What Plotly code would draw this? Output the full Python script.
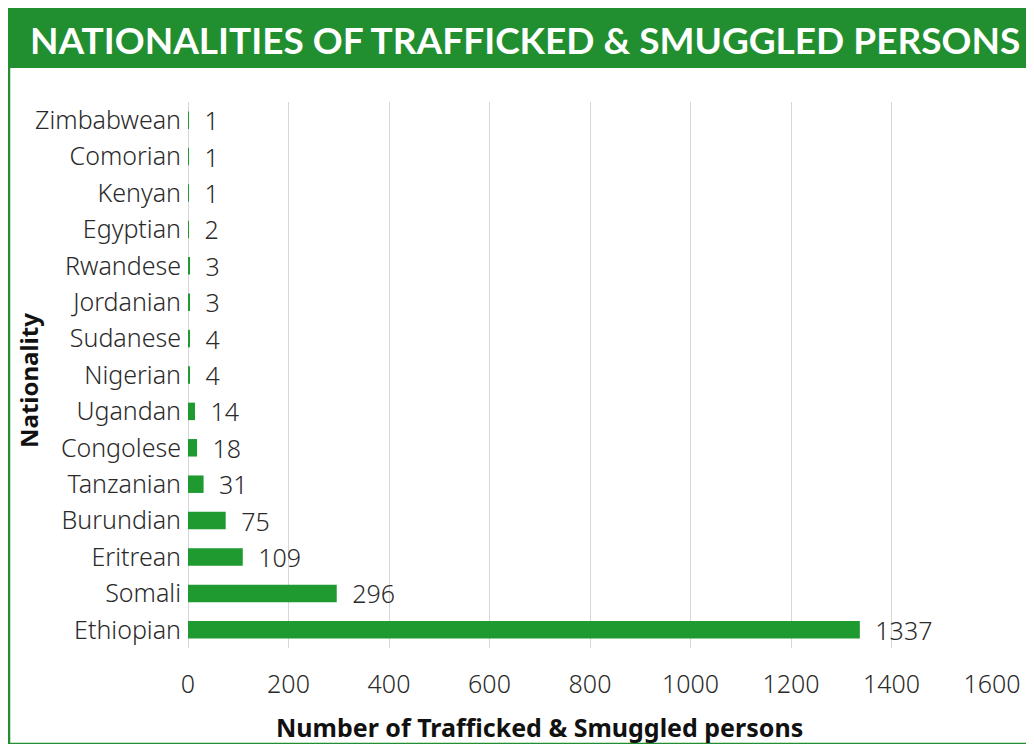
import plotly.graph_objects as go

nationalities = ["Zimbabwean", "Comorian", "Kenyan", "Egyptian", "Rwandese", "Jordanian",
                 "Sudanese", "Nigerian", "Ugandan", "Congolese", "Tanzanian", "Burundian",
                 "Eritrean", "Somali", "Ethiopian"]
counts = [1, 1, 1, 2, 3, 3, 4, 4, 14, 18, 31, 75, 109, 296, 1337]
x_ticks = [0, 200, 400, 600, 800, 1000, 1200, 1400, 1600]

# page body has an 8px margin: figure pixel = reference pixel - 8
OFF = 8
W, H = 1034 - OFF, 752 - 2 * OFF
L, R, T, B = 188 - OFF, 42, 102 - OFF, 104 - OFF
pw, ph = W - L - R, H - T - B

def px_x(p):
    return (p - OFF - L) / pw

def px_y(p):
    return (H - B - (p - OFF)) / ph

GREEN = "#1f9a31"
HEADER = "#218f30"
FONT = "Noto Sans"
TXT = "#2a2a2a"

fig = go.Figure(go.Bar(
    x=counts, y=nationalities, orientation="h",
    marker=dict(color=GREEN, line=dict(width=0)),
    width=0.48,
    text=counts, texttemplate="\u2002%{x}", textposition="outside",
    constraintext="none",
    textfont=dict(family=FONT, size=25, color=TXT, weight=300),
    cliponaxis=False,
))

fig.update_layout(
    width=W, height=H,
    margin=dict(l=L, r=R, t=T, b=B, autoexpand=False),
    paper_bgcolor="white", plot_bgcolor="white",
    showlegend=False,
    font=dict(family=FONT, size=25, color=TXT),
    xaxis=dict(range=[0, 1600], tickvals=x_ticks, showgrid=True, gridcolor="#d6d6d6",
               gridwidth=1, zeroline=True, zerolinecolor="#d6d6d6", zerolinewidth=1,
               showline=False, ticks="", ticklabelstandoff=19,
               tickfont=dict(family=FONT, size=25, color=TXT, weight=300)),
    yaxis=dict(autorange="reversed", showgrid=False, showline=False, ticks="",
               ticklabelstandoff=6,
               tickfont=dict(family=FONT, size=25, color=TXT, weight=300)),
    shapes=[
        dict(type="rect", xref="paper", yref="paper",
             x0=px_x(9), x1=px_x(1032), y0=px_y(744), y1=px_y(9),
             line=dict(color=HEADER, width=2.5), fillcolor="rgba(0,0,0,0)", layer="below"),
        dict(type="rect", xref="paper", yref="paper",
             x0=px_x(8), x1=px_x(1034), y0=px_y(68), y1=px_y(9),
             line=dict(width=0), fillcolor=HEADER, layer="below"),
    ],
    annotations=[
        dict(text="<b>NATIONALITIES OF TRAFFICKED &amp; SMUGGLED PERSONS</b>",
             xref="paper", yref="paper", x=px_x(525), y=px_y(40),
             xanchor="center", yanchor="middle", showarrow=False,
             font=dict(family="Lato", size=37, color="white")),
        dict(text="<b>Number of Trafficked &amp; Smuggled persons</b>",
             xref="paper", yref="paper", x=px_x(539), y=px_y(727),
             xanchor="center", yanchor="middle", showarrow=False,
             font=dict(family=FONT, size=25, color="#111111")),
        dict(text="<b>Nationality</b>", textangle=-90,
             xref="paper", yref="paper", x=px_x(28), y=px_y(381),
             xanchor="center", yanchor="middle", showarrow=False,
             font=dict(family=FONT, size=24, color="#111111")),
    ],
)

fig.write_html("out.html")
